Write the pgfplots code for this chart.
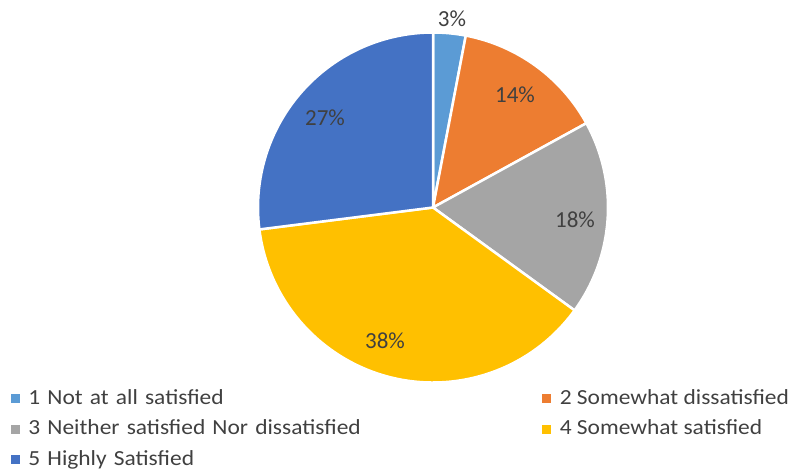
\documentclass[border=0pt]{standalone}
\usepackage{pgfplots}
\pgfplotsset{compat=1.18}
\usepackage{pgfplotstable}
\usepackage{fontspec}
\setmainfont{Carlito}
\newfontfamily\legfont[FakeStretch=1.09]{Carlito}
\definecolor{c1}{HTML}{5B9BD5}
\definecolor{c2}{HTML}{ED7D31}
\definecolor{c3}{HTML}{A5A5A5}
\definecolor{c4}{HTML}{FFC000}
\definecolor{c5}{HTML}{4472C4}
\definecolor{txt}{HTML}{404040}

% value (percent), slice colour, label position (px, y downward)
\pgfplotstableread[col sep=comma]{
value,color,lx,ly
3,c1,452,19
14,c2,515,95
18,c3,575,220
38,c4,385,341
27,c5,325,118
}\piedata

\begin{document}
\begin{tikzpicture}
\begin{axis}[
  name=ax,
  scale only axis, width=796pt, height=471pt,
  xmin=0, xmax=796, ymin=0, ymax=471, y dir=reverse,
  hide axis, clip=false,
  legend columns=2,
  legend cell align=left,
  legend style={at={(axis cs:11,388)}, anchor=north west, draw=none, fill=none,
    inner sep=0pt, outer sep=0pt, font=\legfont\fontsize{21.5}{26}\selectfont, text=txt,
    row sep=9.5pt,
    nodes={inner sep=0pt, text height=16pt, text depth=5pt},
    /tikz/every odd column/.append style={column sep=9pt},
    /tikz/column 2/.style={text width=514pt}},
]
\pgfplotsextra{%
  \pgfplotstablegetrowsof{\piedata}%
  \pgfmathtruncatemacro\lastrow{\pgfplotsretval-1}%
  \xdef\angA{90}%
  \foreach \i in {0,...,\lastrow}{%
    \pgfplotstablegetelem{\i}{value}\of\piedata \let\slv\pgfplotsretval
    \pgfplotstablegetelem{\i}{color}\of\piedata \let\slcol\pgfplotsretval
    \pgfmathsetmacro\angB{\angA-3.6*\slv}%
    \fill[fill=\slcol, draw=white, line width=2.5pt, line join=round]
      (axis cs:433,207.5) -- ++(\angA:175pt) arc[start angle=\angA, end angle=\angB, radius=175pt] -- cycle;
    \xdef\angA{\angB}%
  }%
}
\addplot[forget plot, draw=none, mark=none, point meta=explicit,
  nodes near coords={\pgfmathprintnumber[assume math mode=true]{\pgfplotspointmeta}\%},
  every node near coord/.style={anchor=center, inner sep=0pt, text=txt, font=\fontsize{23}{28}\selectfont}]
  table[x=lx, y=ly, meta=value] {\piedata};

\addlegendimage{legend image code/.code={\fill[c1] (0pt,-4pt) rectangle (8pt,4pt);}}
\addlegendentry{1 Not at all satisfied}
\addlegendimage{legend image code/.code={\fill[c2] (0pt,-4pt) rectangle (8pt,4pt);}}
\addlegendentry{2 Somewhat dissatisfied}
\addlegendimage{legend image code/.code={\fill[c3] (0pt,-4pt) rectangle (8pt,4pt);}}
\addlegendentry{3 Neither satisfied Nor dissatisfied}
\addlegendimage{legend image code/.code={\fill[c4] (0pt,-4pt) rectangle (8pt,4pt);}}
\addlegendentry{4 Somewhat satisfied}
\addlegendimage{legend image code/.code={\fill[c5] (0pt,-4pt) rectangle (8pt,4pt);}}
\addlegendentry{5 Highly Satisfied}
\end{axis}
\pgfresetboundingbox
\path[use as bounding box] (ax.south west) rectangle (ax.north east);
\end{tikzpicture}
\end{document}
